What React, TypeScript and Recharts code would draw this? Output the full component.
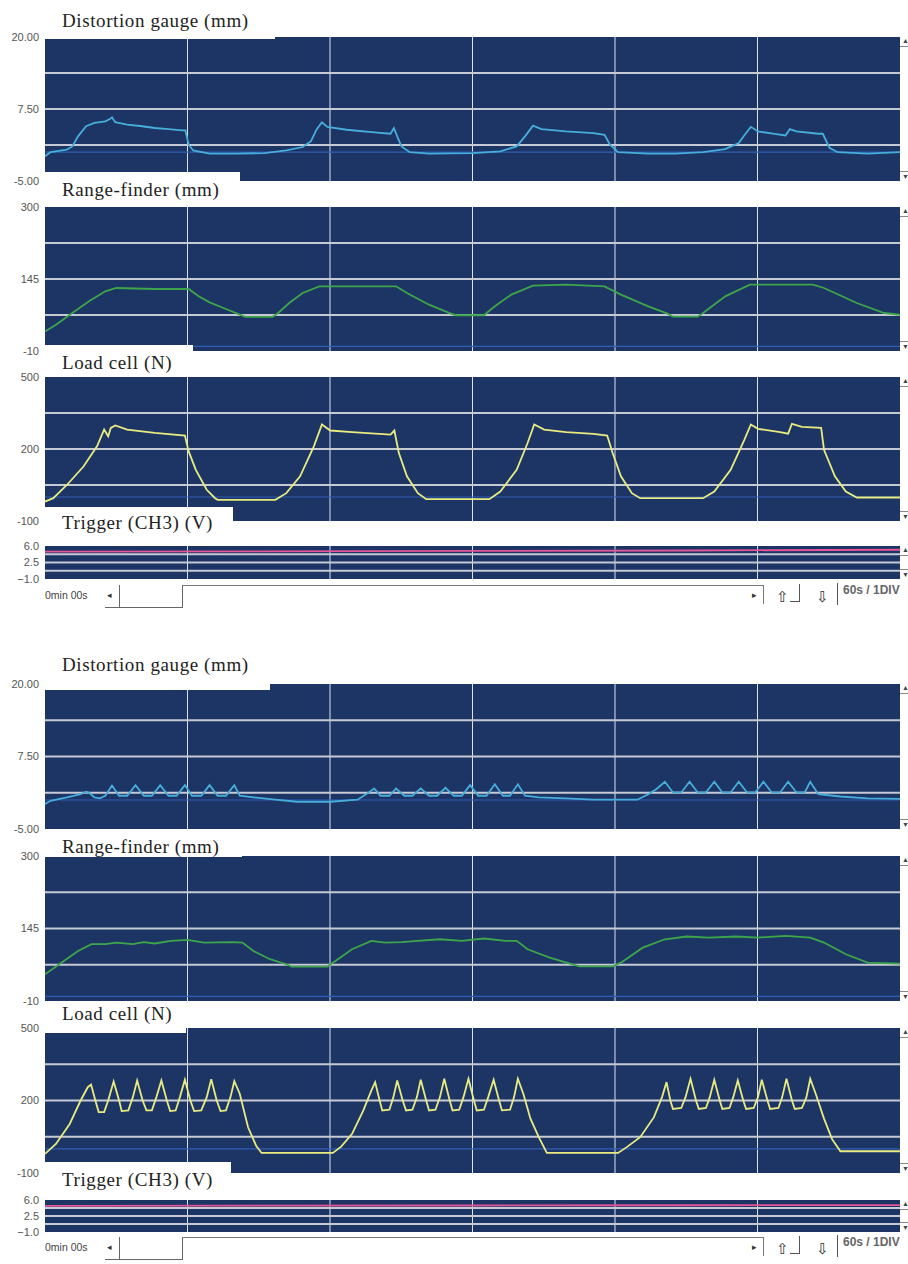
import React from 'react';
import { LineChart, Line, XAxis, YAxis, CartesianGrid, ReferenceLine } from 'recharts';

type Pt = [number, number];

// ---------- time axis (seconds, 60 s / division) ----------
const timeDomain: [number, number] = [0, 360];
const timeDivisions = [60, 120, 180, 240, 300];

// ---------- channel scales ----------
const gaugeDomain: [number, number] = [-5, 20];
const gaugeTicks = [-5, 7.5, 20];
const gaugeLabels = ['-5.00', '7.50', '20.00'];
const gaugeGrid = [1.25, 7.5, 13.75];

const rangeDomain: [number, number] = [-10, 300];
const rangeTicks = [-10, 145, 300];
const rangeLabels = ['-10', '145', '300'];
const rangeGrid = [67.5, 145, 222.5];

const loadDomain: [number, number] = [-100, 500];
const loadTicks = [-100, 200, 500];
const loadLabels = ['-100', '200', '500'];
const loadGrid = [50, 200, 350];

const trigDomain: [number, number] = [-1, 6];
const trigTicks = [-1, 2.5, 6];
const trigLabels = ['\u22121.0', '2.5', '6.0'];
const trigGrid = [0.75, 2.5, 4.25];

// ---------- upper record (static loading) ----------
const gaugeA: Pt[] = [
  [0, -0.7], [2.3, 0], [9.2, 0.45], [11.5, 1.0], [13.9, 2.75], [17.3, 4.5], [20.8, 5.1], [25.4, 5.35],
  [27.3, 5.75], [28.2, 6.05], [29.6, 5.2], [34.6, 4.8], [40.1, 4.55], [46.2, 4.2], [52, 4.0], [57.7, 3.8], [59.1, 3.8], [60.5, 1.3],
  [62.4, 0.3], [69.3, -0.25], [80.8, -0.25], [92.4, -0.15], [101.6, 0.3], [108.5, 0.9], [112, 1.9],
  [114.3, 3.9], [116.6, 5.2], [118.9, 4.4], [127, 3.9], [138.6, 3.45], [145.5, 3.2], [146.9, 4.2],
  [148.3, 2.75], [150.1, 1.0], [153.6, 0], [161.7, -0.25], [180.1, -0.15], [191.7, 0.15], [198.6, 1.0],
  [202.1, 2.75], [205.5, 4.6], [209, 4.0], [219.4, 3.6], [230.9, 3.3], [235.6, 3.0], [237.9, 1.3],
  [241.3, 0], [254, -0.25], [265.6, -0.25], [277.1, 0], [286.4, 0.55], [292.1, 1.6], [295.1, 3.3],
  [297.2, 4.4], [300.2, 3.6], [307.2, 3.2], [311.8, 2.9], [313.6, 4.0], [316.4, 3.6], [325.6, 3.2],
  [327.5, 3.2], [330.3, 0.75], [333.7, 0], [346.4, -0.25], [360, 0],
];
const rangeA: Pt[] = [
  [0, 32], [4.6, 46.7], [11.5, 71.8], [18.5, 97], [25.4, 118.5], [30, 125.6], [46.2, 123.5], [60.5, 123.5],
  [64.7, 107.7], [69.3, 94.8], [76.2, 80.4], [82, 68.2], [84.3, 63.5], [95.8, 63.5], [98.2, 71.8],
  [102.8, 93.3], [108.5, 114.9], [115.5, 129.2], [147.8, 129.2], [152.4, 114.9], [161.7, 89.7],
  [170.9, 70.4], [173, 67], [184.8, 67], [189.4, 86.2], [196.3, 111.3], [205.5, 130.6], [219.4, 132.8],
  [235.6, 129.2], [242.5, 111.3], [254, 86.2], [262.1, 70.4], [264.4, 64], [274.8, 64], [277.1, 71.8],
  [286.4, 107.7], [296.8, 132.8], [323.3, 132.8], [328, 125.6], [341.8, 93.3], [353.3, 71.8], [360, 68],
];
const loadA: Pt[] = [
  [0, -19], [3.5, -5], [9.2, 50], [16.2, 127], [21.9, 211], [24.9, 281], [26.6, 253], [27.7, 288],
  [29.6, 298], [34.6, 281], [46.2, 267], [58.9, 256], [60.5, 190], [63.5, 113], [68.1, 30], [71.6, -5],
  [72.7, -12], [97, -12], [101.6, 16], [107.4, 86], [113.2, 211], [116.6, 302], [120.1, 277], [129.3, 270],
  [145.5, 260], [147.1, 277], [149, 183], [152.4, 86], [157, 16], [160.5, -9], [187.1, -9], [191.7, 23],
  [198.6, 113], [203.2, 225], [206, 302], [210.2, 281], [219.4, 270], [230.9, 263], [236.7, 256],
  [239, 183], [242.5, 86], [247.1, 16], [250.6, -5], [277.1, -5], [281.8, 23], [288.7, 113], [294.5, 239],
  [297.2, 302], [300.2, 284], [309.5, 270], [312.9, 264], [314.5, 305], [318.7, 292], [326.8, 288],
  [328, 197], [332.6, 86], [337.2, 23], [341.8, -2], [360, -2],
];
const trigA: Pt[] = [[0, 4.8], [90, 4.85], [180, 4.95], [270, 5.05], [360, 5.2]];

// ---------- lower record (cyclic loading) ----------
const gaugeB: Pt[] = [
  [0, -0.7], [2.3, -0.13], [9.2, 0.45], [15, 1.0], [17.3, 1.42], [18.5, 1.3], [20.8, 0.45], [23.1, 0.28],
  [25.4, 0.73], [28.2, 2.5], [31.2, 0.73], [34.6, 0.73], [38.1, 2.57], [41.6, 0.73], [45, 0.73],
  [48.5, 2.57], [52, 0.73], [55.4, 0.73], [58.9, 2.57], [61.9, 0.73], [65.8, 0.73], [69.3, 2.57],
  [72.7, 0.73], [76.2, 0.73], [79.7, 2.57], [82, 0.73], [87.8, 0.45], [97, 0.05], [106.2, -0.3],
  [120.1, -0.3], [131.6, 0.05], [136.3, 1.3], [138.6, 2.0], [141.3, 0.73], [145, 0.73], [147.8, 2.0],
  [151.3, 0.73], [154.7, 0.73], [158.2, 2.0], [161.7, 0.73], [165.1, 0.73], [168.6, 2.1], [172.1, 0.73],
  [175.5, 0.73], [179, 2.57], [182.4, 0.73], [185.9, 0.73], [189.4, 2.7], [192.8, 0.73], [195.8, 0.73],
  [199.1, 2.7], [202.1, 0.73], [207.9, 0.45], [219.4, 0.28], [230.9, 0.05], [249.4, 0.05], [254, 1.0],
  [257.5, 1.9], [261, 3.14], [264.4, 1.3], [267.9, 1.3], [271.4, 3.14], [274.8, 1.3], [278.3, 1.3],
  [281.8, 3.14], [285.2, 1.3], [288.7, 1.3], [292.1, 3.14], [295.6, 1.3], [299.1, 1.3], [302.5, 3.14],
  [306, 1.3], [309.5, 1.3], [312.9, 3.14], [316.4, 1.3], [319.9, 1.3], [322.2, 3.14], [325.6, 1.0],
  [334.9, 0.6], [346.4, 0.28], [360, 0.2],
];
const rangeB: Pt[] = [
  [0, 47], [6.9, 72], [13.9, 97], [19.6, 111.4], [25.4, 111.4], [30, 115], [37, 111.4], [41.6, 116],
  [46.2, 113], [53.1, 118.6], [60, 120.7], [67, 115], [78.5, 116], [83.1, 115], [87.8, 97], [94.7, 79.3],
  [101.6, 68.6], [103.9, 63.6], [118.9, 63.6], [121.2, 72], [129.3, 100.7], [137.4, 118.6], [143.2, 115],
  [150.1, 116], [157, 118.6], [166.3, 122], [175.5, 118.6], [184.8, 123.6], [194, 118.6], [198.6, 118.6],
  [203.2, 100.7], [212.5, 82.9], [221.7, 68.6], [225.2, 64], [239, 64], [242.5, 72], [251.7, 104],
  [261, 122], [270.2, 127.9], [279.4, 125.6], [291, 127.9], [300.2, 125.6], [311.8, 129.3],
  [322.2, 125.6], [328, 115], [337.2, 90], [346.4, 72], [360, 70],
];
const loadB: Pt[] = [
  [0, -21], [4.6, 20], [10.4, 103], [15, 200], [18, 255], [19.4, 266], [21.2, 200], [22.6, 152],
  [24.9, 152], [26.6, 200], [28.9, 279], [31.2, 200], [32.3, 156], [35.1, 159], [37, 214], [38.8, 283],
  [41.1, 200], [42.7, 159], [45, 159], [46.9, 214], [49, 283], [51.3, 200], [52.7, 156], [55, 159],
  [56.8, 214], [58.9, 286], [61.2, 200], [62.8, 156], [65.8, 159], [68.1, 214], [70, 288], [72.3, 200],
  [73.9, 156], [76.2, 159], [78.1, 214], [79.7, 280], [82, 228], [85.5, 89], [88.9, 13], [91.2, -17],
  [121.2, -17], [124.7, 9], [129.3, 62], [134, 158], [137.4, 241], [139, 276], [140.9, 200], [142, 159],
  [145, 162], [146.7, 214], [148.3, 283], [150.6, 200], [152, 159], [154.7, 162], [156.6, 214],
  [158.2, 286], [160.5, 200], [161.7, 159], [164.4, 162], [166.3, 214], [168.1, 290], [170.4, 200],
  [171.6, 159], [174.4, 162], [176.2, 214], [178.3, 290], [180.6, 200], [181.8, 159], [184.8, 162],
  [186.6, 214], [188.9, 286], [191.2, 200], [192.4, 159], [195.8, 162], [197.5, 214], [199.1, 290],
  [201.4, 228], [204.4, 125], [207.9, 48], [211.3, -17], [241.3, -17], [244.8, 6], [250.6, 48],
  [256.4, 131], [259.8, 214], [261.7, 276], [263.3, 200], [264.4, 165], [267.9, 169], [269.7, 214],
  [271.8, 290], [274.1, 200], [275.3, 165], [278.3, 169], [279.9, 214], [281.8, 286], [284.1, 200],
  [285.2, 165], [288.2, 169], [289.8, 214], [291.7, 283], [294, 200], [295.2, 165], [298.4, 169],
  [300.2, 214], [301.8, 286], [304.2, 200], [305.3, 165], [308.8, 169], [310.4, 214], [312.2, 290],
  [314.5, 200], [315.7, 165], [318.7, 169], [320.6, 214], [322.2, 290], [324.5, 228], [328, 125],
  [331.4, 40], [334.9, -10], [360, -10],
];
const trigB: Pt[] = [[0, 4.7], [90, 4.75], [180, 4.8], [270, 4.85], [360, 4.9]];

// ---------- styling ----------
const NAVY = '#1c3565';
const H_GRID = '#c6cad5';
const V_GRID = '#dce2ee';
const ZERO = '#2f5fb4';
const C_GAUGE = '#47aedc';
const C_RANGE = '#3ea64a';
const C_LOAD = '#e9eb80';
const C_TRIG = '#e4559a';
const PAD = 10;
const SERIF = '"Liberation Serif", "Times New Roman", serif';
const SANS = '"Liberation Sans", Arial, sans-serif';

type PlotProps = {
  top: number;
  height: number;
  data: Pt[];
  color: string;
  domain: [number, number];
  ticks: number[];
  labels: string[];
  grid: number[];
  zero?: boolean;
};

function Plot({ top, height, data, color, domain, ticks, labels, grid, zero }: PlotProps) {
  const rows = data.map(([t, v]) => ({ t, v }));
  return (
    <div style={{ position: 'absolute', left: 0, top: top - PAD, width: 908, height: height + 2 * PAD }}>
      <LineChart width={908} height={height + 2 * PAD} data={rows} margin={{ top: PAD, right: 8, bottom: PAD, left: 0 }}>
        <CartesianGrid fill={NAVY} fillOpacity={1} stroke="none" horizontal={false} vertical={false} />
        <XAxis type="number" dataKey="t" domain={timeDomain} hide allowDataOverflow />
        <YAxis
          type="number"
          domain={domain}
          ticks={ticks}
          interval={0}
          allowDataOverflow
          width={45}
          axisLine={false}
          tickLine={false}
          tickSize={0}
          tickMargin={6}
          tickFormatter={(v: number) => labels[ticks.indexOf(v)] ?? ''}
          tick={{ fill: '#555', fontSize: 11, fontFamily: SANS }}
        />
        {timeDivisions.map((x) => (
          <ReferenceLine key={'v' + x} x={x} stroke={V_GRID} strokeWidth={1} />
        ))}
        {grid.map((y) => (
          <ReferenceLine key={'h' + y} y={y} stroke={H_GRID} strokeWidth={2} />
        ))}
        {zero ? <ReferenceLine y={0} stroke={ZERO} strokeWidth={1.2} /> : null}
        <Line type="linear" dataKey="v" stroke={color} strokeWidth={1.8} dot={false} isAnimationActive={false} />
      </LineChart>
      {/* small scroll arrows at the right edge */}
      <div style={{ position: 'absolute', left: 902, top: PAD + 0, fontSize: 7, lineHeight: '8px', color: '#444', fontFamily: SANS }}>{'\u25B2'}</div>
      <div style={{ position: 'absolute', left: 900, top: PAD + 9, width: 8, height: 1, background: '#888' }} />
      <div style={{ position: 'absolute', left: 900, top: PAD + height - 10, width: 8, height: 1, background: '#888' }} />
      <div style={{ position: 'absolute', left: 902, top: PAD + height - 8, fontSize: 7, lineHeight: '8px', color: '#444', fontFamily: SANS }}>{'\u25BC'}</div>
    </div>
  );
}

function Label({ text, left, top, width, height, baseline }: { text: string; left: number; top: number; width: number; height: number; baseline: number }) {
  return (
    <div style={{ position: 'absolute', left, top, width, height, background: '#fff' }}>
      <span
        style={{
          position: 'absolute',
          left: 17,
          top: baseline - top - 17,
          lineHeight: '21px',
          fontFamily: SERIF,
          fontSize: 19,
          letterSpacing: 0.6,
          color: '#222',
          whiteSpace: 'nowrap',
        }}
      >
        {text}
      </span>
    </div>
  );
}

function Line1({ x1, y1, x2, y2, color = '#666' }: { x1: number; y1: number; x2: number; y2: number; color?: string }) {
  return (
    <div
      style={{
        position: 'absolute',
        left: Math.min(x1, x2),
        top: Math.min(y1, y2),
        width: Math.max(1, Math.abs(x2 - x1)),
        height: Math.max(1, Math.abs(y2 - y1)),
        background: color,
      }}
    />
  );
}

function Strip({ y }: { y: number }) {
  const small = { position: 'absolute' as const, fontFamily: SANS, whiteSpace: 'nowrap' as const };
  return (
    <>
      <div style={{ ...small, left: 45, top: y + 3, fontSize: 10.5, lineHeight: '14px', color: '#444' }}>0min 00s</div>
      <div style={{ ...small, left: 107, top: y + 4, fontSize: 9, lineHeight: '12px', color: '#333' }}>{'\u25C2'}</div>
      <Line1 x1={119} y1={y} x2={119} y2={y + 22} />
      <Line1 x1={105} y1={y + 22} x2={183} y2={y + 22} />
      <Line1 x1={182} y1={y} x2={182} y2={y + 22} />
      <Line1 x1={182} y1={y} x2={763} y2={y} color="#777" />
      <Line1 x1={763} y1={y} x2={763} y2={y + 19} color="#777" />
      <div style={{ ...small, left: 752, top: y + 4, fontSize: 9, lineHeight: '12px', color: '#333' }}>{'\u25B8'}</div>
      <div style={{ ...small, left: 776, top: y + 3, fontSize: 15, lineHeight: '18px', color: '#333' }}>{'\u21E7'}</div>
      <Line1 x1={799} y1={y - 1} x2={799} y2={y + 16} color="#555" />
      <Line1 x1={790} y1={y + 16} x2={800} y2={y + 16} color="#555" />
      <div style={{ ...small, left: 816, top: y + 3, fontSize: 15, lineHeight: '18px', color: '#333' }}>{'\u21E9'}</div>
      <Line1 x1={837} y1={y - 2} x2={837} y2={y + 20} color="#555" />
      <div style={{ ...small, left: 843, top: y - 2, fontSize: 12, fontWeight: 700, lineHeight: '15px', color: '#666' }}>60s / 1DIV</div>
    </>
  );
}

export default function App() {
  return (
    <div style={{ position: 'absolute', left: 0, top: 0, width: 908, height: 1264, background: '#fff', overflow: 'hidden' }}>
      {/* upper record */}
      <Plot top={37} height={144} data={gaugeA} color={C_GAUGE} domain={gaugeDomain} ticks={gaugeTicks} labels={gaugeLabels} grid={gaugeGrid} zero />
      <Plot top={207} height={144} data={rangeA} color={C_RANGE} domain={rangeDomain} ticks={rangeTicks} labels={rangeLabels} grid={rangeGrid} zero />
      <Plot top={377} height={144} data={loadA} color={C_LOAD} domain={loadDomain} ticks={loadTicks} labels={loadLabels} grid={loadGrid} zero />
      <Plot top={546} height={33} data={trigA} color={C_TRIG} domain={trigDomain} ticks={trigTicks} labels={trigLabels} grid={trigGrid} />

      {/* lower record */}
      <Plot top={684} height={145} data={gaugeB} color={C_GAUGE} domain={gaugeDomain} ticks={gaugeTicks} labels={gaugeLabels} grid={gaugeGrid} zero />
      <Plot top={856} height={145} data={rangeB} color={C_RANGE} domain={rangeDomain} ticks={rangeTicks} labels={rangeLabels} grid={rangeGrid} zero />
      <Plot top={1028} height={145} data={loadB} color={C_LOAD} domain={loadDomain} ticks={loadTicks} labels={loadLabels} grid={loadGrid} zero />
      <Plot top={1200} height={32} data={trigB} color={C_TRIG} domain={trigDomain} ticks={trigTicks} labels={trigLabels} grid={trigGrid} />

      {/* channel captions */}
      <Label text="Distortion gauge (mm)" left={45} top={0} width={230} height={39} baseline={26.5} />
      <Label text="Range-finder (mm)" left={45} top={172} width={195} height={35} baseline={196} />
      <Label text="Load cell (N)" left={45} top={345} width={148} height={32} baseline={369} />
      <Label text="Trigger (CH3) (V)" left={45} top={507} width={188} height={38} baseline={529} />

      <Label text="Distortion gauge (mm)" left={45} top={645} width={225} height={45} baseline={671} />
      <Label text="Range-finder (mm)" left={45} top={830} width={197} height={27} baseline={853} />
      <Label text="Load cell (N)" left={45} top={1002} width={141} height={31} baseline={1020} />
      <Label text="Trigger (CH3) (V)" left={45} top={1162} width={186} height={37} baseline={1186} />

      <Strip y={585} />
      <Strip y={1237} />
    </div>
  );
}
